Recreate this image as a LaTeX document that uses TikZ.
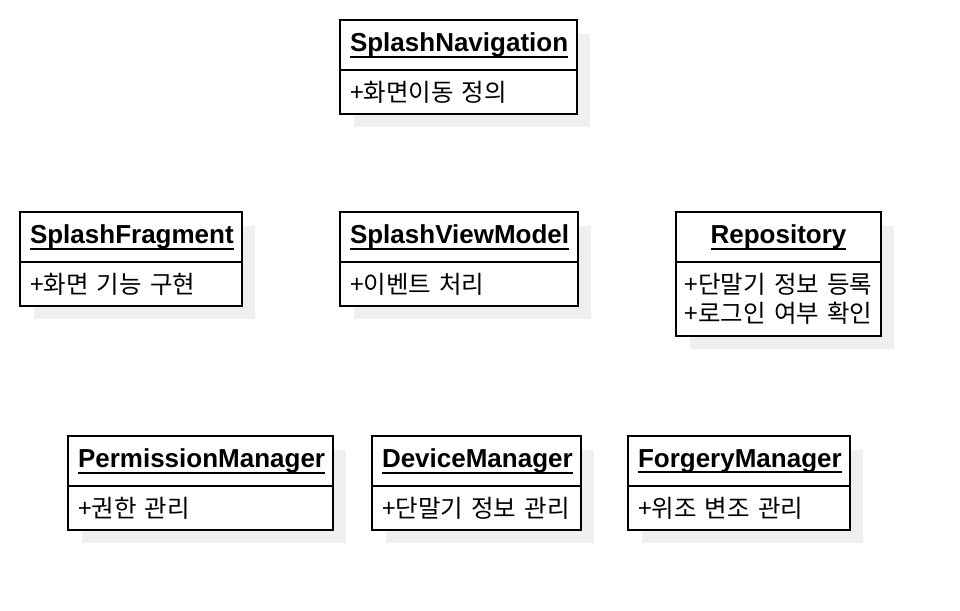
\documentclass[tikz,border=0pt]{standalone}
\usepackage{fontspec}
\setmainfont{Liberation Sans}
\newfontfamily\krfont{Noto Sans CJK KR}
\usetikzlibrary{positioning,backgrounds}
\definecolor{shadowgray}{HTML}{EFEFEF}
\newcommand\clsname[1]{\setbox0\hbox{#1}\rlap{\smash{\rule[-6pt]{\wd0}{1.8pt}}}\box0}
\tikzset{
  head/.style={draw,line width=1.6pt,outer sep=0pt,fill=white,minimum height=50pt,inner xsep=10pt,align=center,font=\fontsize{26}{30}\selectfont\bfseries},
  attrs/.style={draw,line width=1.6pt,outer sep=0pt,fill=white,minimum height=44pt,inner xsep=10pt,inner ysep=4pt,align=left,font=\fontsize{24.5}{29}\selectfont\krfont},
  shade/.style={fill=shadowgray}
}
\begin{document}
\begin{tikzpicture}[x=1pt,y=-1pt]
\useasboundingbox (0,0) rectangle (960,610);
% first row
\node[head,anchor=north west,text width=217pt] (nav) at (340,20) {\clsname{SplashNavigation}};
\node[attrs,text width=217pt,below=0pt of nav] (navops) {+화면이동 정의};
% second row
\node[head,anchor=north west,text width=202pt] (frag) at (20,212) {\clsname{SplashFragment}};
\node[attrs,text width=202pt,below=0pt of frag] (fragops) {+화면 기능 구현};
\node[head,anchor=north west,text width=218pt] (vm) at (340,212) {\clsname{SplashViewModel}};
\node[attrs,text width=218pt,below=0pt of vm] (vmops) {+이벤트 처리};
\node[head,anchor=north west,text width=185pt] (repo) at (676,212) {\clsname{Repository}};
\node[attrs,text width=195pt,inner xsep=5pt,align=center,minimum height=74pt,below=0pt of repo] (repoops) {+단말기 정보 등록\\+로그인 여부 확인};
% third row
\node[head,anchor=north west,text width=245pt] (perm) at (68,436) {\clsname{PermissionManager}};
\node[attrs,text width=245pt,below=0pt of perm] (permops) {+권한 관리};
\node[head,anchor=north west,text width=189pt] (dev) at (372,436) {\clsname{DeviceManager}};
\node[attrs,text width=189pt,below=0pt of dev] (devops) {+단말기 정보 관리};
\node[head,anchor=north west,text width=202pt] (forg) at (628,436) {\clsname{ForgeryManager}};
\node[attrs,text width=202pt,below=0pt of forg] (forgops) {+위조 변조 관리};
% shadows
\begin{scope}[on background layer]
\foreach \cls/\ops in {nav/navops,frag/fragops,vm/vmops,repo/repoops,perm/permops,dev/devops,forg/forgops}
  \fill[shade] ([shift={(14,14)}]\cls.north west) rectangle ([shift={(13,13)}]\ops.south east);
\end{scope}
\end{tikzpicture}
\end{document}
